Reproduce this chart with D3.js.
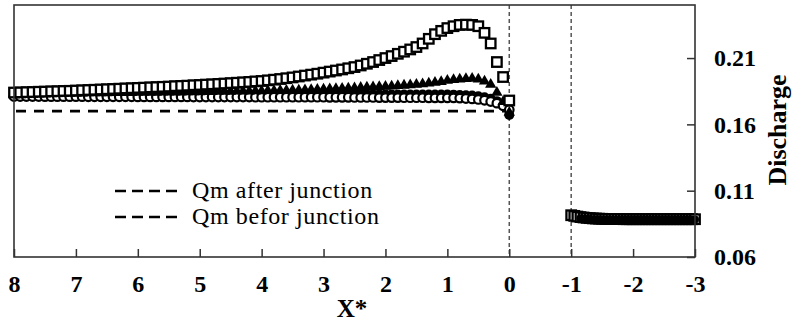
<!DOCTYPE html>
<html>
<head>
<meta charset="utf-8">
<script src="https://cdn.jsdelivr.net/npm/d3@7"></script>
<style>
  body { margin: 0; background: #fff; }
  svg { display: block; }
  .tick text { font-family: "Liberation Serif", "Times New Roman", serif; font-weight: bold; font-size: 24px; fill: #000; }
</style>
</head>
<body>
<svg id="chart"></svg>
<script>
// X* positions, upstream reach (8 -> 0) and downstream reach (-1 -> -3)
const xUp = [8.0, 7.9, 7.8, 7.7, 7.6, 7.5, 7.4, 7.3, 7.2, 7.1,
  7.0, 6.9, 6.8, 6.7, 6.6, 6.5, 6.4, 6.3, 6.2, 6.1,
  6.0, 5.9, 5.8, 5.7, 5.6, 5.5, 5.4, 5.3, 5.2, 5.1,
  5.0, 4.9, 4.8, 4.7, 4.6, 4.5, 4.4, 4.3, 4.2, 4.1,
  4.0, 3.9, 3.8, 3.7, 3.6, 3.5, 3.4, 3.3, 3.2, 3.1,
  3.0, 2.9, 2.8, 2.7, 2.6, 2.5, 2.4, 2.3, 2.2, 2.1,
  2.0, 1.9, 1.8, 1.7, 1.6, 1.5, 1.4, 1.3, 1.2, 1.1,
  1.0, 0.9, 0.8, 0.7, 0.6, 0.5, 0.4, 0.3, 0.2, 0.1, 0.0];

const squaresUp = [0.1840, 0.1841, 0.1843, 0.1844, 0.1846, 0.1847, 0.1849, 0.1850, 0.1852, 0.1853,
  0.1855, 0.1857, 0.1859, 0.1861, 0.1863, 0.1865, 0.1867, 0.1869, 0.1871, 0.1873,
  0.1875, 0.1877, 0.1879, 0.1881, 0.1883, 0.1885, 0.1888, 0.1890, 0.1892, 0.1895,
  0.1897, 0.1900, 0.1902, 0.1905, 0.1908, 0.1911, 0.1914, 0.1917, 0.1920, 0.1924,
  0.1927, 0.1932, 0.1937, 0.1942, 0.1948, 0.1954, 0.1961, 0.1968, 0.1975, 0.1982,
  0.1990, 0.1998, 0.2006, 0.2014, 0.2023, 0.2032, 0.2044, 0.2057, 0.2070, 0.2085,
  0.2100, 0.2115, 0.2132, 0.2148, 0.2165, 0.2183, 0.2210, 0.2245, 0.2280, 0.2305,
  0.2326, 0.2340, 0.2350, 0.2352, 0.2350, 0.2340, 0.2290, 0.2210, 0.2070, 0.1957, 0.1780];

const trianglesUp = [0.1830, 0.1830, 0.1831, 0.1831, 0.1832, 0.1832, 0.1833, 0.1833, 0.1834, 0.1834,
  0.1835, 0.1835, 0.1836, 0.1836, 0.1837, 0.1837, 0.1838, 0.1838, 0.1839, 0.1839,
  0.1840, 0.1840, 0.1841, 0.1841, 0.1842, 0.1842, 0.1843, 0.1843, 0.1844, 0.1844,
  0.1845, 0.1846, 0.1846, 0.1847, 0.1848, 0.1848, 0.1849, 0.1850, 0.1850, 0.1851,
  0.1852, 0.1853, 0.1854, 0.1855, 0.1856, 0.1857, 0.1858, 0.1860, 0.1861, 0.1863,
  0.1865, 0.1867, 0.1869, 0.1871, 0.1873, 0.1875, 0.1877, 0.1879, 0.1881, 0.1883,
  0.1885, 0.1888, 0.1891, 0.1894, 0.1897, 0.1900, 0.1905, 0.1910, 0.1915, 0.1922,
  0.1930, 0.1936, 0.1940, 0.1944, 0.1945, 0.1940, 0.1925, 0.1900, 0.1840, 0.1770, 0.1690];

const openCirclesUp = [0.1810, 0.1810, 0.1810, 0.1810, 0.1810, 0.1809, 0.1809, 0.1809, 0.1809, 0.1809,
  0.1809, 0.1809, 0.1808, 0.1808, 0.1808, 0.1808, 0.1808, 0.1808, 0.1808, 0.1808,
  0.1807, 0.1807, 0.1807, 0.1807, 0.1807, 0.1807, 0.1807, 0.1807, 0.1807, 0.1806,
  0.1806, 0.1806, 0.1806, 0.1806, 0.1806, 0.1806, 0.1806, 0.1806, 0.1806, 0.1805,
  0.1805, 0.1805, 0.1805, 0.1805, 0.1805, 0.1805, 0.1805, 0.1805, 0.1805, 0.1805,
  0.1805, 0.1804, 0.1804, 0.1804, 0.1804, 0.1803, 0.1803, 0.1803, 0.1803, 0.1802,
  0.1802, 0.1802, 0.1802, 0.1801, 0.1801, 0.1801, 0.1801, 0.1800, 0.1800, 0.1800,
  0.1800, 0.1800, 0.1798, 0.1795, 0.1792, 0.1788, 0.1782, 0.1772, 0.1760, 0.1740, 0.1710];

const filledCirclesUp = [0.1830, 0.1830, 0.1830, 0.1830, 0.1830, 0.1830, 0.1830, 0.1830, 0.1830, 0.1830,
  0.1830, 0.1830, 0.1830, 0.1829, 0.1829, 0.1829, 0.1829, 0.1829, 0.1829, 0.1829,
  0.1829, 0.1829, 0.1829, 0.1829, 0.1829, 0.1828, 0.1828, 0.1828, 0.1828, 0.1828,
  0.1828, 0.1828, 0.1828, 0.1828, 0.1828, 0.1828, 0.1828, 0.1827, 0.1827, 0.1827,
  0.1827, 0.1827, 0.1827, 0.1827, 0.1827, 0.1827, 0.1827, 0.1827, 0.1826, 0.1826,
  0.1826, 0.1826, 0.1826, 0.1826, 0.1826, 0.1826, 0.1826, 0.1826, 0.1826, 0.1826,
  0.1825, 0.1825, 0.1825, 0.1825, 0.1825, 0.1825, 0.1825, 0.1825, 0.1825, 0.1825,
  0.1825, 0.1824, 0.1822, 0.1820, 0.1817, 0.1812, 0.1805, 0.1793, 0.1775, 0.1740, 0.1670];

const xDown = [-1.00, -1.05, -1.10, -1.15, -1.20, -1.25, -1.30, -1.35, -1.40, -1.45,
  -1.50, -1.55, -1.60, -1.65, -1.70, -1.75, -1.80, -1.85, -1.90, -1.95,
  -2.00, -2.05, -2.10, -2.15, -2.20, -2.25, -2.30, -2.35, -2.40, -2.45,
  -2.50, -2.55, -2.60, -2.65, -2.70, -2.75, -2.80, -2.85, -2.90, -2.95, -3.00];

const squaresDown = [0.0915, 0.0910, 0.0905, 0.0901, 0.0898, 0.0895, 0.0893, 0.0891, 0.0890, 0.0889,
  0.0888, 0.0887, 0.0887, 0.0886, 0.0886, 0.0886, 0.0886, 0.0885, 0.0885, 0.0885,
  0.0885, 0.0885, 0.0885, 0.0885, 0.0885, 0.0885, 0.0885, 0.0885, 0.0885, 0.0885,
  0.0885, 0.0885, 0.0885, 0.0885, 0.0885, 0.0885, 0.0885, 0.0885, 0.0885, 0.0885, 0.0885];

// filled markers downstream start a little after the second junction
const filledDown = [null, null, null, 0.0893, 0.0890, 0.0888, 0.0886, 0.0885, 0.0884, 0.0884,
  0.0883, 0.0883, 0.0883, 0.0882, 0.0882, 0.0882, 0.0882, 0.0882, 0.0882, 0.0882,
  0.0882, 0.0882, 0.0882, 0.0882, 0.0882, 0.0882, 0.0882, 0.0882, 0.0882, 0.0882,
  0.0882, 0.0882, 0.0882, 0.0882, 0.0882, 0.0882, 0.0882, 0.0882, 0.0882, 0.0882, 0.0882];

// mean discharge reference lines
const qmBefore = 0.170;
const qmAfter = 0.0875;
const junctionLines = [0, -1];

const xTicks = [8, 7, 6, 5, 4, 3, 2, 1, 0, -1, -2, -3];
const yTicks = [0.06, 0.11, 0.16, 0.21];
const legendLabels = ['Qm after junction', 'Qm befor junction'];

const width = 794, height = 326;
const mLeft = 14, mRight = 695, mTop = 5, mBottom = 257;

const svg = d3.select('#chart')
  .attr('width', width)
  .attr('height', height);

svg.append('rect').attr('width', width).attr('height', height).attr('fill', '#fff');

const x = d3.scaleLinear().domain([8, -3]).range([mLeft, mRight]);
const y = d3.scaleLinear().domain([0.06, 0.25]).range([mBottom, mTop]);

// junction markers
svg.selectAll('.junction')
  .data(junctionLines)
  .enter()
  .append('line')
  .attr('x1', d => x(d)).attr('x2', d => x(d))
  .attr('y1', mTop).attr('y2', mBottom)
  .attr('stroke', '#555')
  .attr('stroke-width', 1.5)
  .attr('stroke-dasharray', '4,3');

// Qm lines
svg.append('line')
  .attr('x1', x(8) + 2).attr('x2', x(0))
  .attr('y1', y(qmBefore)).attr('y2', y(qmBefore))
  .attr('stroke', '#000').attr('stroke-width', 2.6)
  .attr('stroke-dasharray', '10,8');

svg.append('line')
  .attr('x1', x(-1)).attr('x2', x(-3))
  .attr('y1', y(qmAfter)).attr('y2', y(qmAfter))
  .attr('stroke', '#000').attr('stroke-width', 2.6)
  .attr('stroke-dasharray', '10,8');

// markers
const upData = xUp.map((v, i) => ({
  x: v, sq: squaresUp[i], tri: trianglesUp[i], oc: openCirclesUp[i], fc: filledCirclesUp[i]
}));

svg.append('g').selectAll('circle')
  .data(upData)
  .enter()
  .append('circle')
  .attr('cx', d => x(d.x)).attr('cy', d => y(d.fc))
  .attr('r', 5)
  .attr('fill', '#000');

svg.append('g').selectAll('circle')
  .data(upData)
  .enter()
  .append('circle')
  .attr('cx', d => x(d.x)).attr('cy', d => y(d.oc))
  .attr('r', 4.3)
  .attr('fill', '#fff')
  .attr('stroke', '#000')
  .attr('stroke-width', 2.2);

const tri = d3.symbol().type(d3.symbolTriangle).size(55);
svg.append('g').selectAll('path')
  .data(upData)
  .enter()
  .append('path')
  .attr('transform', d => `translate(${x(d.x)},${y(d.tri)})`)
  .attr('d', tri)
  .attr('fill', '#000');

const sqSize = 9.5;
svg.append('g').selectAll('rect')
  .data(upData)
  .enter()
  .append('rect')
  .attr('x', d => x(d.x) - sqSize / 2).attr('y', d => y(d.sq) - sqSize / 2)
  .attr('width', sqSize).attr('height', sqSize)
  .attr('fill', '#fff')
  .attr('stroke', '#000')
  .attr('stroke-width', 2.3);

const downData = xDown.map((v, i) => ({ x: v, sq: squaresDown[i], fc: filledDown[i] }));

svg.append('g').selectAll('rect')
  .data(downData)
  .enter()
  .append('rect')
  .attr('x', d => x(d.x) - sqSize / 2).attr('y', d => y(d.sq) - sqSize / 2)
  .attr('width', sqSize).attr('height', sqSize)
  .attr('fill', '#fff')
  .attr('stroke', '#000')
  .attr('stroke-width', 2.3);

svg.append('g').selectAll('circle')
  .data(downData.filter(d => d.fc !== null))
  .enter()
  .append('circle')
  .attr('cx', d => x(d.x)).attr('cy', d => y(d.fc))
  .attr('r', 4)
  .attr('fill', '#000');

// frame
svg.append('rect')
  .attr('x', mLeft).attr('y', mTop)
  .attr('width', mRight - mLeft).attr('height', mBottom - mTop)
  .attr('fill', 'none')
  .attr('stroke', '#333')
  .attr('stroke-width', 1.6);

// axes
const xAxis = svg.append('g')
  .attr('transform', `translate(0,${mBottom})`)
  .call(d3.axisBottom(x).tickValues(xTicks).tickSize(-8).tickPadding(18).tickFormat(d => String(d)));
xAxis.select('.domain').remove();
xAxis.selectAll('.tick line').attr('stroke', '#333').attr('stroke-width', 1.5);

const yAxis = svg.append('g')
  .attr('transform', `translate(${mRight},0)`)
  .call(d3.axisRight(y).tickValues(yTicks).tickSize(-8).tickPadding(19).tickFormat(d3.format('.2f')));
yAxis.select('.domain').remove();
yAxis.selectAll('.tick line').attr('stroke', '#333').attr('stroke-width', 1.5);

svg.append('text')
  .attr('x', 352).attr('y', 317)
  .attr('text-anchor', 'middle')
  .style('font-family', '"Liberation Serif", serif')
  .style('font-weight', 'bold')
  .style('font-size', '25px')
  .text('X*');

svg.append('text')
  .attr('transform', 'translate(786,130) rotate(-90)')
  .attr('text-anchor', 'middle')
  .style('font-family', '"Liberation Serif", serif')
  .style('font-weight', 'bold')
  .style('font-size', '26px')
  .text('Discharge');

// legend
const legend = svg.append('g').attr('transform', 'translate(115,191)');
const items = legend.selectAll('g')
  .data(legendLabels)
  .enter()
  .append('g')
  .attr('transform', (d, i) => `translate(0,${i * 26})`);

items.append('line')
  .attr('x1', 0).attr('x2', 62)
  .attr('stroke', '#000').attr('stroke-width', 2.6)
  .attr('stroke-dasharray', '11,6');

items.append('text')
  .attr('x', 77).attr('y', 7)
  .style('font-family', '"Liberation Serif", serif')
  .style('font-size', '24px')
  .style('letter-spacing', '0.6px')
  .text(d => d);
</script>
</body>
</html>
